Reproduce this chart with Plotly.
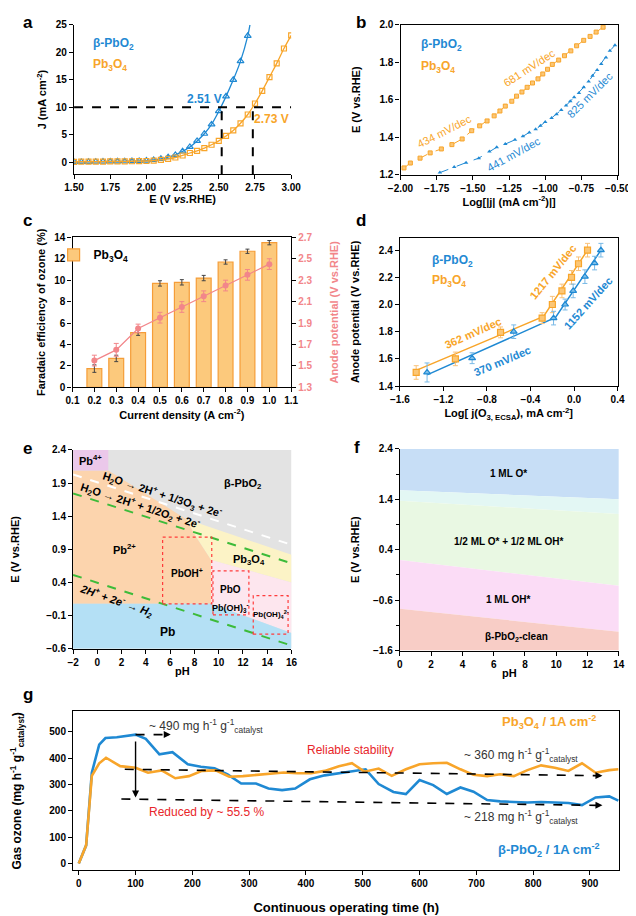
import plotly.graph_objects as go

W, H = 636, 916
FONT = "Liberation Sans, Arial, sans-serif"
BLUE = "#1f89d3"
ORANGE = "#f8a52a"
SALMON = "#f2868a"
RED = "#e8262a"

# ---------------- data ----------------
# (a) LSV
a_E_pbo2 = [1.50, 1.55, 1.60, 1.65, 1.70, 1.75, 1.80, 1.85, 1.90, 1.95, 2.00, 2.05, 2.10,
            2.15, 2.20, 2.25, 2.30, 2.35, 2.40, 2.45, 2.50, 2.55, 2.60, 2.65, 2.70]
a_J_pbo2 = [0.05, 0.08, 0.10, 0.12, 0.14, 0.16, 0.18, 0.20, 0.23, 0.27, 0.33, 0.45, 0.65,
            0.95, 1.35, 2.0, 2.8, 3.9, 5.2, 6.9, 9.3, 12.0, 15.0, 18.4, 23.0]
a_E_pbo2_end = 2.715
a_J_pbo2_end = 25.0
a_E_pb3o4 = [1.50, 1.55, 1.60, 1.65, 1.70, 1.75, 1.80, 1.85, 1.90, 1.95, 2.00, 2.05, 2.10,
             2.15, 2.20, 2.25, 2.30, 2.35, 2.40, 2.45, 2.50, 2.55, 2.60, 2.65, 2.70, 2.75,
             2.80, 2.85, 2.90, 2.95, 3.00]
a_J_pb3o4 = [0.10, 0.12, 0.13, 0.14, 0.15, 0.16, 0.17, 0.18, 0.20, 0.22, 0.25, 0.33, 0.45,
             0.62, 0.88, 1.25, 1.7, 2.1, 2.6, 3.2, 3.9, 4.8, 5.8, 7.1, 8.7, 10.7,
             13.0, 15.5, 18.0, 20.7, 23.1]
a_ref_J = 10
a_onset_E = [2.52, 2.735]
a_onset_labels = ["2.51 V", "2.73 V"]

# (b) Tafel
b_logj_pb3o4 = [-1.976, -1.932, -1.865, -1.795, -1.718, -1.645, -1.574, -1.508, -1.453, -1.402,
                -1.353, -1.313, -1.276, -1.231, -1.198, -1.161, -1.125, -1.088, -1.050, -1.017,
                -0.984, -0.951, -0.907, -0.867, -0.823, -0.783, -0.734, -0.690, -0.648, -0.600]
b_E_pb3o4 = [1.237, 1.263, 1.289, 1.317, 1.338, 1.361, 1.391, 1.435, 1.461, 1.487,
             1.514, 1.540, 1.566, 1.592, 1.619, 1.641, 1.666, 1.689, 1.711, 1.737,
             1.762, 1.788, 1.811, 1.834, 1.860, 1.887, 1.916, 1.937, 1.960, 1.986]
b_logj_pbo2 = [-1.728, -1.629, -1.547, -1.459, -1.386, -1.335, -1.276, -1.209, -1.154, -1.110,
               -1.066, -1.033, -1.000, -0.956, -0.922, -0.889, -0.856, -0.827, -0.800, -0.767,
               -0.734, -0.700, -0.673, -0.641, -0.613, -0.580, -0.553, -0.518]
b_E_pbo2 = [1.212, 1.242, 1.265, 1.289, 1.325, 1.347, 1.364, 1.387, 1.405, 1.426,
            1.443, 1.461, 1.482, 1.503, 1.522, 1.545, 1.569, 1.592, 1.613, 1.636,
            1.666, 1.697, 1.727, 1.758, 1.790, 1.825, 1.860, 1.890]

# (c) Faradaic efficiency
c_j = [0.2, 0.3, 0.4, 0.5, 0.6, 0.7, 0.8, 0.9, 1.0]
c_fe = [1.75, 2.7, 5.1, 9.7, 9.8, 10.2, 11.7, 12.7, 13.5]
c_fe_err = [0.35, 0.3, 0.25, 0.25, 0.25, 0.25, 0.2, 0.2, 0.2]
c_pot = [1.55, 1.65, 1.85, 1.95, 2.05, 2.15, 2.25, 2.35, 2.45]
c_pot_err = [0.05, 0.06, 0.04, 0.05, 0.05, 0.05, 0.05, 0.05, 0.05]

# (d) ozone Tafel
d_logj_pb3o4 = [-1.45, -1.09, -0.675, -0.293, -0.199, -0.111, -0.023, 0.041, 0.124]
d_E_pb3o4 = [1.50, 1.60, 1.795, 1.90, 2.00, 2.10, 2.20, 2.30, 2.40]
d_err_pb3o4 = [0.05, 0.05, 0.04, 0.04, 0.06, 0.05, 0.05, 0.05, 0.05]
d_logj_pbo2 = [-1.35, -0.936, -0.554, -0.188, -0.082, -0.008, 0.10, 0.189, 0.247]
d_E_pbo2 = [1.50, 1.605, 1.80, 1.90, 2.00, 2.10, 2.205, 2.305, 2.40]
d_err_pbo2 = [0.07, 0.04, 0.05, 0.05, 0.04, 0.05, 0.05, 0.05, 0.05]
d_fit_pb3o4_x = [-1.45, -0.28, 0.124]
d_fit_pb3o4_y = [1.515, 1.912, 2.40]
d_fit_pbo2_x = [-1.35, -0.17, 0.247]
d_fit_pbo2_y = [1.482, 1.905, 2.40]

# (e) Pourbaix diagram regions (pH, E)
e_gray = ([-2, 16, 16, -2], [-0.6, -0.6, 2.4, 2.4])
e_yellow = ([7.3, 16, 16, 9.37, 8.1], [1.36, 0.82, 0.40, 0.74, 1.10])
e_pink = ([9.37, 16, 16, 9.37], [0.74, 0.40, -0.36, 0.08])
e_orange = ([-2, 0.9, 7.3, 8.1, 9.37, 9.37, -2], [2.09, 2.09, 1.36, 1.10, 0.74, 0.08, 0.08])
e_blue = ([-2, 9.37, 16, 16, -2], [0.08, 0.08, -0.36, -0.6, -0.6])
e_purple = ([-2, 0.9, 0.9, -2], [2.09, 2.09, 2.4, 2.4])
e_o3_line = ([-2, 16], [2.03, 0.97])
e_o2_line = ([-2, 16], [1.745, 0.689])
e_h2_line = ([-2, 16], [0.516, -0.55])
e_boxes = [(5.38, 9.43, 0.079, 1.086), (9.53, 12.49, -0.086, 0.575), (12.85, 15.72, -0.377, 0.204)]

# (f) surface Pourbaix bands
f_bands = [
    ([0, 14, 14, 0], [2.4, 2.4, 1.40, 1.578], "#c7def6"),
    ([0, 14, 14, 0], [1.578, 1.40, 1.108, 1.37], "#e3f7f4"),
    ([0, 14, 14, 0], [1.37, 1.108, -0.313, 0.196], "#e9f8e3"),
    ([0, 14, 14, 0], [0.196, -0.313, -1.228, -0.771], "#fbdcf6"),
    ([0, 14, 14, 0], [-0.771, -1.228, -1.6, -1.6], "#f8cdc6"),
]

# (g) stability
g_t_pbo2 = [0, 13, 23, 36, 47, 67, 100, 118, 142, 165, 192, 215, 239, 262, 286, 312, 334,
            358, 381, 407, 433, 461, 484, 505, 528, 554, 576, 600, 624, 648, 672, 695, 719,
            742, 766, 790, 814, 838, 862, 886, 910, 934, 950]
g_o3_pbo2 = [0, 69, 345, 452, 477, 480, 490, 474, 415, 423, 377, 368, 362, 339, 304, 304, 285,
             279, 285, 320, 335, 345, 352, 358, 302, 272, 264, 317, 298, 264, 289, 273, 241,
             236, 234, 232, 234, 232, 230, 222, 251, 255, 239]
g_t_pb3o4 = [0, 13, 23, 36, 48, 73, 100, 122, 146, 170, 194, 217, 241, 265, 289, 314, 337,
             361, 385, 409, 433, 458, 481, 503, 528, 551, 576, 600, 624, 648, 672, 695, 719,
             742, 766, 790, 814, 838, 862, 886, 910, 934, 950]
g_o3_pb3o4 = [0, 69, 333, 381, 402, 370, 364, 345, 354, 324, 332, 352, 354, 330, 332, 337, 344,
              346, 343, 343, 352, 370, 381, 349, 361, 333, 358, 377, 381, 383, 358, 337, 332,
              339, 332, 355, 373, 364, 352, 381, 345, 355, 358]
g_peak = (100, 490)
g_level_pb3o4 = ([81, 922], [358, 334])
g_level_pbo2 = ([75, 922], [245, 221])

# ---------------- helpers ----------------
def dxp(p0, p1):
    return [p0 / W, p1 / W]

def dyp(top, bottom):
    return [1 - bottom / H, 1 - top / H]

TICKF = dict(family=FONT, size=10, color="black", weight="bold")
TITF = dict(family=FONT, size=11, color="black", weight="bold")

def ax(**kw):
    d = dict(showline=True, linecolor="black", linewidth=1.2, ticks="outside", ticklen=4,
             tickwidth=1.1, tickcolor="black", showgrid=False, zeroline=False,
             tickfont=TICKF, title_font=TITF)
    d.update(kw)
    return d

fig = go.Figure()

# ---- (a)
fig.add_trace(go.Scatter(x=a_E_pbo2 + [a_E_pbo2_end], y=a_J_pbo2 + [a_J_pbo2_end], mode="lines",
                         line=dict(color=BLUE, width=1.3, shape="spline"), xaxis="x", yaxis="y",
                         showlegend=False, cliponaxis=True))
fig.add_trace(go.Scatter(x=a_E_pbo2, y=a_J_pbo2, mode="markers",
                         marker=dict(symbol="triangle-up-open", size=6, color=BLUE, line=dict(width=1.2)),
                         xaxis="x", yaxis="y", showlegend=False))
fig.add_trace(go.Scatter(x=a_E_pb3o4, y=a_J_pb3o4, mode="lines+markers",
                         line=dict(color=ORANGE, width=1.3, shape="spline"),
                         marker=dict(symbol="square-open", size=5, color=ORANGE, line=dict(width=1.2)),
                         xaxis="x", yaxis="y", showlegend=False))

# ---- (b)
fig.add_trace(go.Scatter(x=b_logj_pb3o4, y=b_E_pb3o4, mode="lines+markers",
                         line=dict(color=ORANGE, width=1, dash="dash"),
                         marker=dict(symbol="square", size=4, color="#fbc676", line=dict(color=ORANGE, width=1)),
                         xaxis="x2", yaxis="y2", showlegend=False))
fig.add_trace(go.Scatter(x=b_logj_pbo2, y=b_E_pbo2, mode="lines+markers",
                         line=dict(color=BLUE, width=1, dash="dash"),
                         marker=dict(symbol="triangle-up", size=4, color=BLUE),
                         xaxis="x2", yaxis="y2", showlegend=False))

# ---- (c)
fig.add_trace(go.Bar(x=c_j, y=c_fe, width=0.068, name="Pb<sub>3</sub>O<sub>4</sub>",
                     marker=dict(color="#fcc97c", line=dict(color="#f59d38", width=1.2)),
                     error_y=dict(type="data", array=c_fe_err, color="#444", thickness=1, width=2),
                     xaxis="x3", yaxis="y3", showlegend=True))
fig.add_trace(go.Scatter(x=c_j, y=c_pot, mode="lines+markers",
                         line=dict(color=SALMON, width=1.3),
                         marker=dict(symbol="circle", size=6, color=SALMON),
                         error_y=dict(type="data", array=c_pot_err, color=SALMON, thickness=1, width=2.5),
                         xaxis="x3", yaxis="y4", showlegend=False))

# ---- (d)
fig.add_trace(go.Scatter(x=d_fit_pb3o4_x, y=d_fit_pb3o4_y, mode="lines",
                         line=dict(color=ORANGE, width=1.5), xaxis="x5", yaxis="y5", showlegend=False))
fig.add_trace(go.Scatter(x=d_fit_pbo2_x, y=d_fit_pbo2_y, mode="lines",
                         line=dict(color=BLUE, width=1.5), xaxis="x5", yaxis="y5", showlegend=False))
fig.add_trace(go.Scatter(x=d_logj_pb3o4, y=d_E_pb3o4, mode="markers",
                         marker=dict(symbol="square", size=6, color="#fbc676", line=dict(color=ORANGE, width=1.2)),
                         error_y=dict(type="data", array=d_err_pb3o4, color="#f9c27a", thickness=1, width=2.5),
                         xaxis="x5", yaxis="y5", showlegend=False))
fig.add_trace(go.Scatter(x=d_logj_pbo2, y=d_E_pbo2, mode="markers",
                         marker=dict(symbol="triangle-up", size=6, color="#7fc0ea", line=dict(color=BLUE, width=1.2)),
                         error_y=dict(type="data", array=d_err_pbo2, color="#78b9e6", thickness=1, width=2.5),
                         xaxis="x5", yaxis="y5", showlegend=False))

# ---- (e)
for (xs, ys), col in [(e_gray, "#e3e3e3"), (e_yellow, "#fcf3c6"), (e_pink, "#fde6ee"),
                      (e_orange, "#fcd4ad"), (e_blue, "#b4e0f5"), (e_purple, "#ebc8ea")]:
    fig.add_trace(go.Scatter(x=xs, y=ys, fill="toself", fillcolor=col, mode="lines",
                             line=dict(width=0, color=col), xaxis="x6", yaxis="y6",
                             showlegend=False, hoverinfo="skip"))
fig.add_trace(go.Scatter(x=e_o3_line[0], y=e_o3_line[1], mode="lines",
                         line=dict(color="white", width=2, dash="dash"), xaxis="x6", yaxis="y6", showlegend=False))
for ln in (e_o2_line, e_h2_line):
    fig.add_trace(go.Scatter(x=ln[0], y=ln[1], mode="lines",
                             line=dict(color="#3dbb3a", width=2, dash="dash"), xaxis="x6", yaxis="y6",
                             showlegend=False))

# ---- (f)
for xs, ys, col in f_bands:
    fig.add_trace(go.Scatter(x=xs, y=ys, fill="toself", fillcolor=col, mode="lines",
                             line=dict(width=0, color=col), xaxis="x7", yaxis="y7",
                             showlegend=False, hoverinfo="skip"))

# ---- (g)
fig.add_trace(go.Scatter(x=g_t_pbo2, y=g_o3_pbo2, mode="lines", line=dict(color=BLUE, width=2.6),
                         xaxis="x8", yaxis="y8", showlegend=False))
fig.add_trace(go.Scatter(x=g_t_pb3o4, y=g_o3_pb3o4, mode="lines", line=dict(color=ORANGE, width=2.6),
                         xaxis="x8", yaxis="y8", showlegend=False))

# ---------------- shapes ----------------
shapes = []
shapes.append(dict(type="line", xref="x", yref="y", x0=1.5, x1=3.0, y0=a_ref_J, y1=a_ref_J,
                   line=dict(color="black", width=2, dash="dash")))
for e in a_onset_E:
    shapes.append(dict(type="line", xref="x", yref="y", x0=e, x1=e, y0=-2.15, y1=a_ref_J,
                       line=dict(color="black", width=2, dash="dash")))
for x0, x1, y0, y1 in e_boxes:
    shapes.append(dict(type="rect", xref="x6", yref="y6", x0=x0, x1=x1, y0=y0, y1=y1,
                       line=dict(color="#ff3b3b", width=1.2, dash="dot"), fillcolor="rgba(0,0,0,0)"))
shapes.append(dict(type="line", xref="x8", yref="y8", x0=g_level_pb3o4[0][0], x1=g_level_pb3o4[0][1] - 10,
                   y0=g_level_pb3o4[1][0], y1=g_level_pb3o4[1][1], line=dict(color="black", width=1.6, dash="dash")))
shapes.append(dict(type="line", xref="x8", yref="y8", x0=g_level_pbo2[0][0], x1=g_level_pbo2[0][1] - 10,
                   y0=g_level_pbo2[1][0], y1=g_level_pbo2[1][1], line=dict(color="black", width=1.6, dash="dash")))
shapes.append(dict(type="line", xref="x8", yref="y8", x0=g_peak[0], x1=g_peak[0] + 50,
                   y0=g_peak[1], y1=g_peak[1], line=dict(color="black", width=1.6, dash="dash")))

# ---------------- annotations ----------------
ann = []

def T(text, x, y, xref, yref, size=11, color="black", bold=True, angle=0, xanchor="center",
      italic=False):
    ann.append(dict(text=text, x=x, y=y, xref=xref, yref=yref, showarrow=False, textangle=angle,
                    xanchor=xanchor, yanchor="middle",
                    font=dict(family=FONT, size=size, color=color, weight="bold" if bold else "normal",
                              style="italic" if italic else "normal")))

for lab, px, py in [("a", 7, 9), ("b", 354, 9), ("c", 7, 209), ("d", 354, 209),
                    ("e", 7, 440), ("f", 350, 439), ("g", 7, 690)]:
    T(lab, px / W, 1 - py / H, "paper", "paper", size=17)

# (a)
T("β-PbO<sub>2</sub>", 1.615, 21.5, "x", "y", size=12, color=BLUE, xanchor="left")
T("Pb<sub>3</sub>O<sub>4</sub>", 1.615, 17.7, "x", "y", size=12, color=ORANGE, xanchor="left")
T(a_onset_labels[0], 2.40, 11.5, "x", "y", size=12, color=BLUE)
T(a_onset_labels[1], 2.862, 7.95, "x", "y", size=12, color=ORANGE)

# (b)
T("β-PbO<sub>2</sub>", -1.874, 1.89, "x2", "y2", size=12, color=BLUE, xanchor="left")
T("Pb<sub>3</sub>O<sub>4</sub>", -1.874, 1.776, "x2", "y2", size=12, color=ORANGE, xanchor="left")
T("681 mV/dec", -1.112, 1.767, "x2", "y2", size=11, color=ORANGE, bold=False, angle=-33)
T("434 mV/dec", -1.693, 1.431, "x2", "y2", size=11, color=ORANGE, bold=False, angle=-27)
T("441 mV/dec", -1.216, 1.312, "x2", "y2", size=11, color=BLUE, bold=False, angle=-29)
T("825 mV/dec", -0.693, 1.627, "x2", "y2", size=11, color=BLUE, bold=False, angle=-45)

# (d)
T("β-PbO<sub>2</sub>", -1.324, 2.32, "x5", "y5", size=12, color=BLUE, xanchor="left")
T("Pb<sub>3</sub>O<sub>4</sub>", -1.324, 2.17, "x5", "y5", size=12, color=ORANGE, xanchor="left")
T("362 mV/dec", -0.928, 1.787, "x5", "y5", size=11, color=ORANGE, angle=-24)
T("370 mV/dec", -0.657, 1.584, "x5", "y5", size=11, color=BLUE, angle=-23)
T("1217 mV/dec", -0.193, 2.237, "x5", "y5", size=11, color=ORANGE, angle=-51)
T("1152 mV/dec", 0.13, 2.012, "x5", "y5", size=11, color=BLUE, angle=-48)

# (e)
T("Pb<sup>4+</sup>", -0.55, 2.25, "x6", "y6", size=11)
T("β-PbO<sub>2</sub>", 11.96, 1.88, "x6", "y6", size=11)
T("H<sub>2</sub>O → 2H<sup>+</sup> + 1/3O<sub>3</sub> + 2e<sup>-</sup>", 5.4, 1.72, "x6", "y6",
  size=11, angle=18)
T("H<sub>2</sub>O → 2H<sup>+</sup> + 1/2O<sub>2</sub> + 2e<sup>-</sup>", 3.55, 1.56, "x6", "y6",
  size=11, angle=18)
T("2H<sup>+</sup> + 2e<sup>-</sup> → H<sub>2</sub>", 1.61, 0.12, "x6", "y6", size=11, angle=19,
  italic=True)
T("Pb<sup>2+</sup>", 2.27, 0.91, "x6", "y6", size=11)
T("PbOH<sup>+</sup>", 7.4, 0.54, "x6", "y6", size=10)
T("Pb<sub>3</sub>O<sub>4</sub>", 12.53, 0.74, "x6", "y6", size=11)
T("PbO", 11.0, 0.30, "x6", "y6", size=10)
T("Pb(OH)<sub>3</sub><sup>-</sup>", 10.95, 0.02, "x6", "y6", size=9)
T("Pb(OH)<sub>4</sub><sup>2-</sup>", 14.3, -0.08, "x6", "y6", size=8)
T("Pb", 5.82, -0.34, "x6", "y6", size=12)

# (f)
T("1 ML O*", 6.93, 1.905, "x7", "y7", size=10)
T("1/2 ML O* + 1/2 ML OH*", 6.93, 0.573, "x7", "y7", size=10)
T("1 ML OH*", 6.93, -0.588, "x7", "y7", size=10)
T("β-PbO<sub>2</sub>-clean", 7.44, -1.339, "x7", "y7", size=10)

# (g)
T("~ 490 mg h<sup>-1</sup> g<sup>-1</sup><sub>catalyst</sub>", 120, 521, "x8", "y8", size=12,
  color="#333333", bold=False, xanchor="left")
T("Reliable stability", 479, 433, "x8", "y8", size=12, color=RED, bold=False)
T("~ 360 mg h<sup>-1</sup> g<sup>-1</sup><sub>catalyst</sub>", 675, 414, "x8", "y8", size=12,
  color="#333333", bold=False, xanchor="left")
T("~ 218 mg h<sup>-1</sup> g<sup>-1</sup><sub>catalyst</sub>", 675, 176, "x8", "y8", size=12,
  color="#333333", bold=False, xanchor="left")
T("Reduced by ~ 55.5 %", 120, 195, "x8", "y8", size=12, color=RED, bold=False, xanchor="left")
T("Pb<sub>3</sub>O<sub>4</sub> / 1A cm<sup>-2</sup>", 742, 539, "x8", "y8", size=13, color=ORANGE,
  xanchor="left")
T("β-PbO<sub>2</sub> / 1A cm<sup>-2</sup>", 735, 50, "x8", "y8", size=13, color=BLUE, xanchor="left")

def arrow(x, y, axx, ayy):
    ann.append(dict(x=x, y=y, ax=axx, ay=ayy, xref="x8", yref="y8", axref="x8", ayref="y8",
                    showarrow=True, arrowhead=2, arrowsize=1, arrowwidth=1.4, arrowcolor="black",
                    text=" ", font=dict(size=10)))

arrow(g_peak[0], g_level_pbo2[1][0] + 6, g_peak[0], g_peak[1])
arrow(g_peak[0] + 62, g_peak[1], g_peak[0] + 48, g_peak[1])
arrow(g_level_pb3o4[0][1], g_level_pb3o4[1][1], g_level_pb3o4[0][1] - 14, g_level_pb3o4[1][1] + 0.4)
arrow(g_level_pbo2[0][1], g_level_pbo2[1][1], g_level_pbo2[0][1] - 14, g_level_pbo2[1][1] + 0.4)

# ---------------- layout ----------------
fig.update_layout(
    width=W, height=H, margin=dict(l=0, r=0, t=0, b=0),
    plot_bgcolor="white", paper_bgcolor="white",
    font=dict(family=FONT, color="black", size=11),
    shapes=shapes, annotations=ann,
    legend=dict(x=34 / W, y=1 - 244 / H, xanchor="left", yanchor="middle",
                bgcolor="rgba(0,0,0,0)", font=dict(family=FONT, size=12, weight="bold"),
                itemwidth=30),
    xaxis=ax(domain=dxp(55.3, 281.7), range=[1.5, 3.0], anchor="y", tickvals=[1.5, 1.75, 2.0, 2.25, 2.5, 2.75, 3.0],
             tickformat=".2f", title=dict(text="E (V <i>vs.</i>RHE)", standoff=2)),
    yaxis=ax(domain=dyp(11, 162.3), range=[-2.15, 25], anchor="x", tickvals=[0, 5, 10, 15, 20, 25],
             title=dict(text="J (mA cm<sup>-2</sup>)", standoff=6)),
    xaxis2=ax(domain=dxp(395.7, 622), range=[-2.0, -0.5], anchor="y2", mirror=True,
              tickvals=[-2.0, -1.75, -1.5, -1.25, -1.0, -0.75, -0.5], tickformat=".2f",
              title=dict(text="Log[|j| (mA cm<sup>-2</sup>)|]", standoff=4)),
    yaxis2=ax(domain=dyp(10.7, 163), range=[1.2, 2.0], anchor="x2", mirror=True,
              tickvals=[1.2, 1.4, 1.6, 1.8, 2.0], tickformat=".1f",
              title=dict(text="E (V vs.RHE)", standoff=16)),
    xaxis3=ax(domain=dxp(53.7, 281.7), range=[0.1, 1.1], anchor="y3", mirror=True,
              tickvals=[0.1, 0.2, 0.3, 0.4, 0.5, 0.6, 0.7, 0.8, 0.9, 1.0, 1.1], tickformat=".1f",
              title=dict(text="Current density (A cm<sup>-2</sup>)", standoff=5)),
    yaxis3=ax(domain=dyp(226.3, 378.3), range=[0, 14], anchor="x3", tickvals=[0, 2, 4, 6, 8, 10, 12, 14],
              title=dict(text="Faradaic efficiency of ozone (%)", standoff=6)),
    yaxis4=ax(domain=dyp(226.3, 378.3), range=[1.3, 2.7], anchor="x3", overlaying="y3", side="right",
              tickvals=[1.3, 1.5, 1.7, 1.9, 2.1, 2.3, 2.5, 2.7], tickformat=".1f",
              tickfont=dict(family=FONT, size=10, color=SALMON, weight="bold"),
              title=dict(text="Anode potential (V vs.RHE)", standoff=18,
                         font=dict(family=FONT, size=11, color=SALMON, weight="bold"))),
    xaxis5=ax(domain=dxp(395, 622), range=[-1.6, 0.4], anchor="y5", mirror=True,
              tickvals=[-1.6, -1.2, -0.8, -0.4, 0.0, 0.4], tickformat=".1f",
              title=dict(text="Log[ j(O<sub>3, ECSA</sub>), mA cm<sup>-2</sup>]", standoff=5)),
    yaxis5=ax(domain=dyp(226.7, 377), range=[1.4, 2.4915], anchor="x5", mirror=True,
              tickvals=[1.4, 1.6, 1.8, 2.0, 2.2, 2.4], tickformat=".1f",
              title=dict(text="Anode potential (V vs.RHE)", standoff=16)),
    xaxis6=ax(domain=dxp(54.3, 282), range=[-2, 16], anchor="y6", tickvals=list(range(-2, 17, 2)),
              title=dict(text="pH", standoff=0)),
    yaxis6=ax(domain=dyp(441.7, 643.3), range=[-0.6, 2.4], anchor="x6",
              tickvals=[-0.6, -0.1, 0.4, 0.9, 1.4, 1.9, 2.4], tickformat=".1f",
              title=dict(text="E (V vs.RHE)", standoff=24)),
    xaxis7=ax(domain=dxp(395, 623.3), range=[0, 14], anchor="y7", tickvals=list(range(0, 15, 2)),
              title=dict(text="pH", standoff=0)),
    yaxis7=ax(domain=dyp(440.7, 645), range=[-1.6, 2.4], anchor="x7",
              tickvals=[-1.6, -0.6, 0.4, 1.4, 2.4], tickformat=".1f",
              minor=dict(tickvals=[-1.1, -0.1, 0.9, 1.9], ticks="outside", ticklen=3, tickcolor="black"),
              title=dict(text="E (V vs.RHE)", standoff=11)),
    xaxis8=ax(domain=dxp(54.3, 624), range=[-10, 952], anchor="y8", mirror=True,
              tickvals=list(range(0, 1000, 100)),
              title=dict(text="Continuous operating time (h)", standoff=14,
                         font=dict(family=FONT, size=13, color="black", weight="bold"))),
    yaxis8=ax(domain=dyp(706.7, 867.7), range=[-26, 578], anchor="x8", mirror=True,
              tickvals=[0, 100, 200, 300, 400, 500],
              title=dict(text="Gas ozone (mg h<sup>-1</sup> g<sup>-1</sup><sub>catalyst</sub>)", standoff=30,
                         font=dict(family=FONT, size=12, color="black", weight="bold"))),
)

fig.write_html("out.html")
